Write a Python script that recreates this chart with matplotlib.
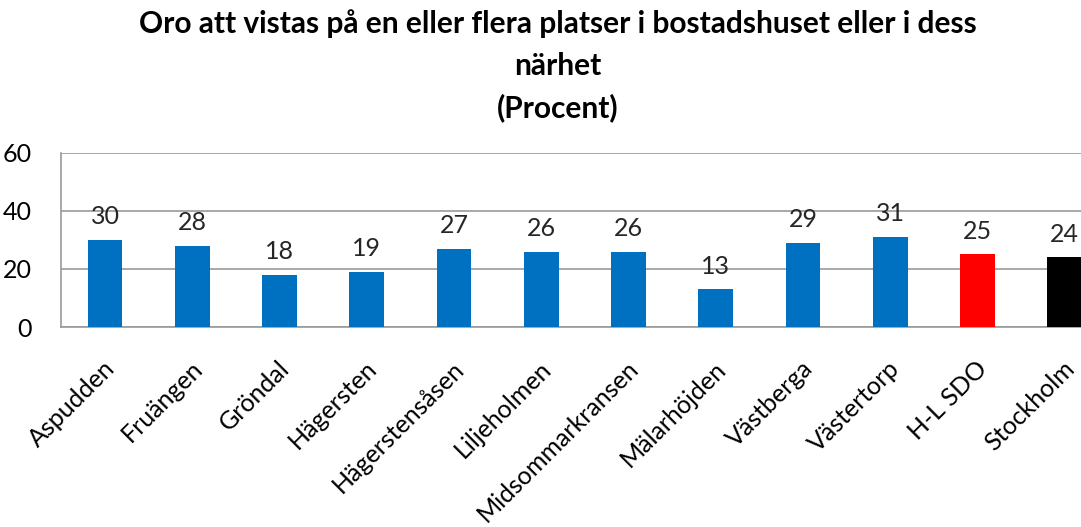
import matplotlib
matplotlib.use("Agg")
import matplotlib.pyplot as plt
import numpy as np

plt.rcParams['font.family'] = ['Lato', 'DejaVu Sans']

# Data
omraden = ['Aspudden', 'Fruängen', 'Gröndal', 'Hägersten', 'Hägerstensåsen',
           'Liljeholmen', 'Midsommarkransen', 'Mälarhöjden', 'Västberga',
           'Västertorp', 'H-L SDO', 'Stockholm']
procent = [30, 28, 18, 19, 27, 26, 26, 13, 29, 31, 25, 24]
farger = ['#0070C0'] * 10 + ['#FF0000', '#000000']

fig = plt.figure(figsize=(10.81, 5.27), dpi=100)
ax = fig.add_axes([0.0568, 0.3795, 0.9685, 0.3302])

x = np.arange(len(omraden))
ax.bar(x, procent, width=0.4, color=farger, zorder=3)

for xi, v in zip(x, procent):
    ax.text(xi, v + 4.0, str(v), ha='center', va='bottom', fontsize=18, color='#262626')

ax.set_xlim(-0.5, len(omraden) - 0.5)
ax.set_ylim(0, 60)
ax.set_yticks([0, 20, 40, 60])
ax.yaxis.grid(True, color='#9a9a9a', linewidth=1.2, zorder=0)
ax.tick_params(axis='y', length=0, labelsize=18, pad=21)
ax.tick_params(axis='x', length=0)
ax.set_xticks(x)
ax.set_xticklabels(omraden, rotation=45, ha='right', va='top',
                   rotation_mode='anchor', fontsize=18)
for lbl in ax.get_xticklabels():
    lbl.set_transform(lbl.get_transform() + matplotlib.transforms.ScaledTranslation(-0.02, -0.25, fig.dpi_scale_trans))

for side in ['top', 'right']:
    ax.spines[side].set_visible(False)
for side in ['left', 'bottom']:
    ax.spines[side].set_color('#9a9a9a')
    ax.spines[side].set_linewidth(1.2)

fig.text(0.516, 0.982, 'Oro att vistas på en eller flera platser i bostadshuset eller i dess\nnärhet\n(Procent)',
         ha='center', va='top', fontsize=21.5, fontweight='bold', linespacing=1.58)

fig.savefig('out.png', dpi=100)
